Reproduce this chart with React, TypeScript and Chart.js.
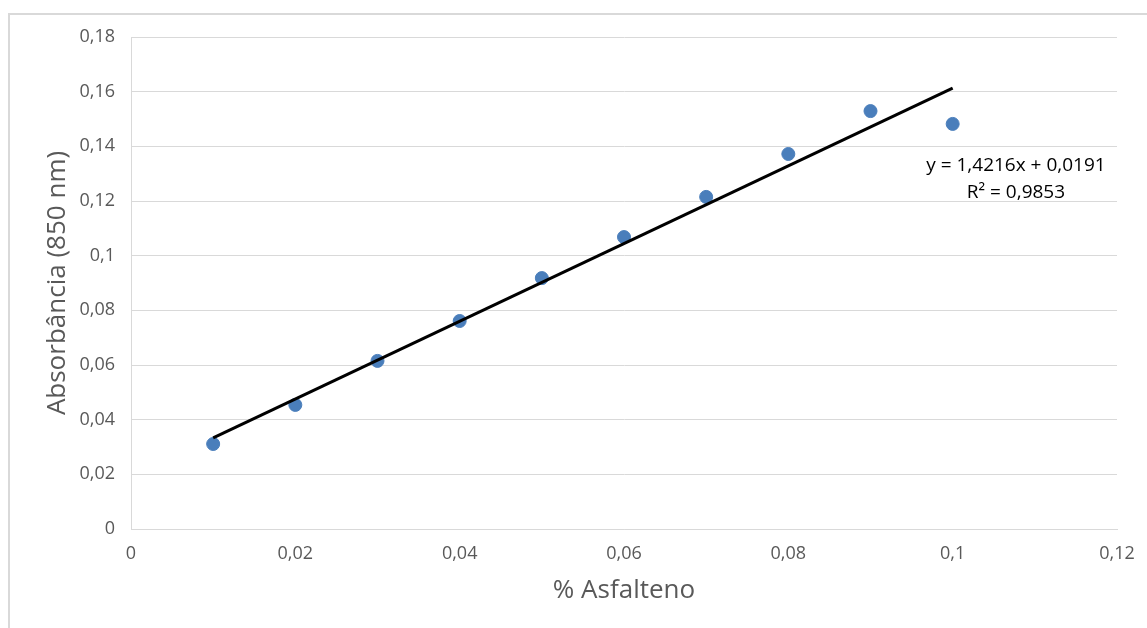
import React, { useEffect, useRef } from "react";
import { Chart, registerables } from "chart.js";

Chart.register(...registerables);

// Concentração de asfalteno (%) e absorbância medida a 850 nm
const concentracao = [0.01, 0.02, 0.03, 0.04, 0.05, 0.06, 0.07, 0.08, 0.09, 0.1];
const absorbancia = [0.0311, 0.0454, 0.0615, 0.0761, 0.0918, 0.1068, 0.1215, 0.1372, 0.1529, 0.1482];

// Linha de tendência linear (ajuste de mínimos quadrados)
const inclinacao = 1.4216;
const intercepto = 0.0191;
const r2 = 0.9853;
const tendenciaX = [0.01, 0.1];

const yTickLabels = ["0", "0,02", "0,04", "0,06", "0,08", "0,1", "0,12", "0,14", "0,16", "0,18"];
const xTickLabels = ["0", "0,02", "0,04", "0,06", "0,08", "0,1", "0,12"];

const equacaoTexto = [
  `y = ${inclinacao.toString().replace(".", ",")}x + ${intercepto.toString().replace(".", ",")}`,
  `R² = ${r2.toString().replace(".", ",")}`,
];

const FONT = "'Open Sans', 'Liberation Sans', sans-serif";
const GRAY = "#595959";
const GRID = "#d9d9d9";

const equationPlugin = {
  id: "equationLabel",
  afterDatasetsDraw(chart: any) {
    const { ctx, scales } = chart;
    const cx = scales.x.getPixelForValue(0.1077);
    const cy = scales.y.getPixelForValue(0.1331);
    ctx.save();
    ctx.fillStyle = "#000";
    ctx.font = `19px ${FONT}`;
    ctx.textAlign = "center";
    ctx.textBaseline = "middle";
    ctx.fillText(equacaoTexto[0], cx, cy);
    ctx.fillText(equacaoTexto[1], cx, cy + 27);
    ctx.restore();
  },
};

export default function App() {
  const canvasRef = useRef<HTMLCanvasElement | null>(null);

  useEffect(() => {
    document.body.style.overflow = "hidden";
    const canvas = canvasRef.current;
    if (!canvas) return;
    const chart = new Chart(canvas, {
      type: "scatter",
      data: {
        datasets: [
          {
            type: "line",
            label: "Linear",
            data: tendenciaX.map((x) => ({ x, y: inclinacao * x + intercepto })),
            borderColor: "#000",
            borderWidth: 3,
            pointRadius: 0,
            fill: false,
            order: 0,
          },
          {
            label: "Absorbância",
            data: concentracao.map((x, i) => ({ x, y: absorbancia[i] })),
            backgroundColor: "#4a7ebb",
            borderColor: "#4a7ebb",
            pointRadius: 6.5,
            pointHoverRadius: 6.5,
            order: 1,
          },
        ],
      },
      options: {
        responsive: false,
        animation: false,
        layout: { padding: { left: 0, right: 30, top: 22, bottom: 0 } },
        plugins: {
          legend: { display: false },
          tooltip: { enabled: false },
        },
        scales: {
          x: {
            type: "linear",
            min: 0,
            max: 0.12,
            afterBuildTicks(axis: any) {
              axis.ticks = xTickLabels.map((_, i) => ({ value: i * 0.02 }));
            },
            afterFit(axis: any) {
              axis.height = 99;
              axis.paddingLeft = 0;
              axis.paddingRight = 0;
            },
            grid: { display: false, drawTicks: false },
            border: { display: true, color: GRID, width: 1 },
            ticks: {
              padding: 14,
              color: GRAY,
              font: { family: FONT, size: 18 },
              maxRotation: 0,
              callback: (_v: any, i: number) => xTickLabels[i],
            },
            title: {
              display: true,
              text: "% Asfalteno",
              color: GRAY,
              font: { family: FONT, size: 26 },
              padding: { top: 0, bottom: 22 },
            },
          },
          y: {
            type: "linear",
            min: 0,
            max: 0.18,
            afterBuildTicks(axis: any) {
              axis.ticks = yTickLabels.map((_, i) => ({ value: i * 0.02 }));
            },
            afterFit(axis: any) {
              axis.width = 121;
              axis.paddingTop = 0;
              axis.paddingBottom = 0;
            },
            grid: { color: GRID, lineWidth: 1, drawTicks: false },
            border: { display: true, color: GRID, width: 1 },
            ticks: {
              padding: 16,
              color: GRAY,
              font: { family: FONT, size: 18 },
              callback: (_v: any, i: number) => yTickLabels[i],
            },
            title: {
              display: true,
              text: "Absorbância (850 nm)",
              color: GRAY,
              font: { family: FONT, size: 26 },
              padding: { top: 32, bottom: 0 },
            },
          },
        },
      },
      plugins: [equationPlugin],
    } as any);
    return () => chart.destroy();
  }, []);

  return (
    <div
      style={{
        position: "absolute",
        left: 8,
        top: 13,
        width: 1137,
        height: 613,
        borderTop: `2px solid ${GRID}`,
        borderLeft: `2px solid ${GRID}`,
        background: "#fff",
      }}
    >
      <canvas ref={canvasRef} width={1137} height={613} style={{ display: "block" }} />
    </div>
  );
}
